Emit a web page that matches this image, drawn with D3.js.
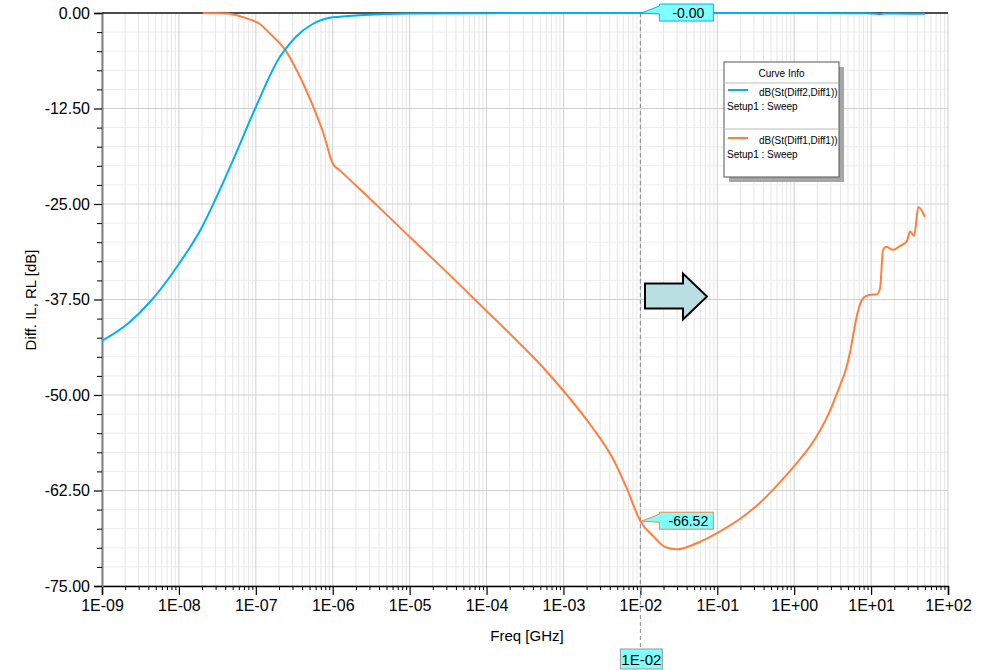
<!DOCTYPE html>
<html>
<head>
<meta charset="utf-8">
<script src="https://cdn.jsdelivr.net/npm/d3@7/dist/d3.min.js"></script>
<style>
  html, body { margin: 0; padding: 0; background: #ffffff; }
  svg { display: block; font-family: "Liberation Sans", Arial, sans-serif; }
</style>
</head>
<body>
<svg id="chart" width="983" height="670"></svg>
<script>
// Differential insertion loss / return loss sweep (frequency in GHz, level in dB)

// dB(St(Diff2,Diff1)) - insertion loss
const ilFreq = [1e-9, 2.2e-9, 4.4e-9, 1e-8, 2e-8, 3e-8, 5.4e-8, 1e-7, 2.07e-7, 2.4e-7, 3.4e-7, 5.5e-7,
  1e-6, 2.5e-6, 1e-5, 1e-4, 1e-3, 1e-2, 1e-1, 1, 5, 10, 13, 15, 20, 50];
const ilDb = [-42.9, -40.6, -37.6, -32.85, -28.0, -24.35, -18.6, -12.3, -5.7, -4.8, -3.0, -1.44,
  -0.57, -0.26, -0.05, -0.02, -0.006, -0.003, -0.005, -0.01, -0.03, -0.05, -0.15, -0.06, -0.08, -0.1];

// dB(St(Diff1,Diff1)) - return loss
const rlFreq = [2.04e-8, 4.2e-8, 7.6e-8, 1.13e-7, 1.53e-7, 2.4e-7, 3.4e-7, 5.6e-7, 7.55e-7, 1e-6,
  1.24e-6, 3.05e-6, 1e-5, 2.5e-5, 1e-4, 2.47e-4, 5.43e-4, 1.11e-3, 2.2e-3, 4.42e-3, 6.71e-3, 1e-2,
  1.48e-2, 2.1e-2, 2.97e-2, 5.4e-2, 9.8e-2, 0.198, 0.36, 0.656, 1.0, 1.615, 2.18, 2.94, 3.96,
  4.59, 5.33, 6.01, 6.58, 7.19, 8.11, 9.7, 11.97, 13.1, 14.3, 15.7, 19.3, 23.8, 29.1, 32.1, 36.2, 41.2, 50];
const rlDb = [0, -0.05, -0.7, -1.44, -2.7, -4.8, -7.5, -12.3, -15.7, -19.7,
  -20.6, -24.3, -29.3, -33.1, -39.0, -42.87, -46.4, -50.0, -53.8, -58.38, -62.3, -66.52,
  -68.5, -69.9, -70.2, -69.4, -68.1, -66.2, -64.1, -61.4, -59.3, -56.7, -54.6, -52.0, -48.7,
  -47.0, -44.4, -41.5, -39.5, -38.1, -37.2, -36.9, -36.8, -36.0, -31.0, -30.6, -31.0, -30.5, -29.9, -28.6, -29.2, -25.4, -26.7];

const xTickLabels = ["1E-09", "1E-08", "1E-07", "1E-06", "1E-05", "1E-04", "1E-03", "1E-02", "1E-01", "1E+00", "1E+01", "1E+02"];
const yTickLabels = ["0.00", "-12.50", "-25.00", "-37.50", "-50.00", "-62.50", "-75.00"];
const seriesNames = ["dB(St(Diff2,Diff1))", "dB(St(Diff1,Diff1))"];
const setupNames = ["Setup1 : Sweep", "Setup1 : Sweep"];
const markerFreq = [1e-2];

const colors = ["#00b0f0", "#ff7f3f"];
const svg = d3.select("#chart");
const plotL = 102, plotR = 948, plotT = 13, plotB = 586;

const x = d3.scaleLog().domain([1e-9, 1e2]).range([plotL, plotR]);
const y = d3.scaleLinear().domain([-75, 0]).range([plotB, plotT]);

// Grid
const decades = d3.range(-9, 3).map(e => Math.pow(10, e));
const minorX = [];
decades.slice(0, -1).forEach(d => { for (let k = 2; k <= 9; k++) minorX.push(d * k); });
const minorY = d3.range(-75, 0.01, 2.5).filter(v => Math.abs(v % 12.5) > 1e-6);
const majorY = d3.range(-75, 0.01, 12.5);

const grid = svg.append("g");
grid.selectAll(".mx").data(minorX).join("line")
  .attr("x1", d => x(d)).attr("x2", d => x(d)).attr("y1", plotT).attr("y2", plotB)
  .attr("stroke", "#e6e6e6").attr("stroke-width", 1);
grid.selectAll(".my").data(minorY).join("line")
  .attr("x1", plotL).attr("x2", plotR).attr("y1", d => y(d)).attr("y2", d => y(d))
  .attr("stroke", "#ececec").attr("stroke-width", 1);
grid.selectAll(".Mx").data(decades).join("line")
  .attr("x1", d => x(d)).attr("x2", d => x(d)).attr("y1", plotT).attr("y2", plotB)
  .attr("stroke", "#cfcfcf").attr("stroke-width", 1);
grid.selectAll(".My").data(majorY).join("line")
  .attr("x1", plotL).attr("x2", plotR).attr("y1", d => y(d)).attr("y2", d => y(d))
  .attr("stroke", "#cfcfcf").attr("stroke-width", 1);

// Axes
const xAxis = d3.axisBottom(x).tickValues(decades).tickSize(9).tickPadding(5)
  .tickFormat((d, i) => xTickLabels[i]);
const gx = svg.append("g").attr("transform", `translate(0,${plotB})`).call(xAxis);
gx.select(".domain").attr("stroke", "#000").attr("stroke-width", 1.5);
gx.selectAll(".tick line").attr("stroke", "#000").attr("stroke-width", 1.2);
gx.selectAll("text").attr("font-size", 16).attr("fill", "#000")
  .attr("font-family", "Liberation Sans, Arial, sans-serif");
const gxm = svg.append("g").attr("transform", `translate(0,${plotB})`)
  .call(d3.axisBottom(x).tickValues(minorX).tickSize(4).tickFormat(""));
gxm.select(".domain").remove();
gxm.selectAll(".tick line").attr("stroke", "#000").attr("stroke-width", 1);

const yAxis = d3.axisLeft(y).tickValues(majorY).tickSize(8).tickPadding(4)
  .tickFormat(d => yTickLabels[Math.round(-d / 12.5)]);
const gy = svg.append("g").attr("transform", `translate(${plotL},0)`).call(yAxis);
gy.select(".domain").attr("stroke", "#808080").attr("stroke-width", 2);
gy.selectAll(".tick line").attr("stroke", "#000").attr("stroke-width", 1.2);
gy.selectAll("text").attr("font-size", 16).attr("fill", "#000")
  .attr("font-family", "Liberation Sans, Arial, sans-serif");
const gym = svg.append("g").attr("transform", `translate(${plotL},0)`)
  .call(d3.axisLeft(y).tickValues(minorY).tickSize(5).tickFormat(""));
gym.select(".domain").remove();
gym.selectAll(".tick line").attr("stroke", "#000").attr("stroke-width", 1);

// top border
svg.append("line").attr("x1", plotL).attr("x2", plotR).attr("y1", plotT).attr("y2", plotT)
  .attr("stroke", "#1a1a1a").attr("stroke-width", 1.5);

// Axis titles
svg.append("text").attr("x", (plotL + plotR) / 2 + 2).attr("y", 641).attr("text-anchor", "middle")
  .attr("font-size", 15).text("Freq [GHz]");
svg.append("text").attr("transform", "translate(36,300) rotate(-90)").attr("text-anchor", "middle")
  .attr("font-size", 15).text("Diff. IL, RL [dB]");

// Marker line
const mx = x(markerFreq[0]);
svg.append("line").attr("x1", mx).attr("x2", mx).attr("y1", plotT).attr("y2", 649)
  .attr("stroke", "#8a8a8a").attr("stroke-width", 1).attr("stroke-dasharray", "4,3");

// Curves
const line = d3.line().x(d => x(d[0])).y(d => y(d[1])).curve(d3.curveMonotoneX);
const ilData = ilFreq.map((f, i) => [f, ilDb[i]]);
const rlData = rlFreq.map((f, i) => [f, rlDb[i]]);
svg.append("path").datum(rlData).attr("d", line).attr("fill", "none")
  .attr("stroke", colors[1]).attr("stroke-width", 2);
svg.append("path").datum(ilData).attr("d", line).attr("fill", "none")
  .attr("stroke", colors[0]).attr("stroke-width", 2);

// Marker callouts
function callout(px, py, value, stroke) {
  const bx = px + 18, bw = 54, bh = 17, by = py - 9;
  const g = svg.append("g");
  g.append("path")
    .attr("d", `M${px},${py} L${bx},${by + 2} L${bx},${by} L${bx + bw},${by} L${bx + bw},${by + bh} L${bx},${by + bh} L${bx},${by + 10} Z`)
    .attr("fill", "#80ffff").attr("stroke", stroke).attr("stroke-width", 1);
  g.append("text").attr("x", bx + bw / 2 + 2).attr("y", by + 13.5).attr("text-anchor", "middle")
    .attr("font-size", 14).attr("fill", "#000").text(value.toFixed(2));
}
const ilAtMarker = ilDb[ilFreq.indexOf(markerFreq[0])];
const rlAtMarker = rlDb[rlFreq.indexOf(markerFreq[0])];
callout(mx + 1, y(ilAtMarker), ilAtMarker, colors[0]);
callout(mx + 1, y(rlAtMarker), rlAtMarker, colors[1]);

// Marker frequency label
svg.append("rect").attr("x", mx - 20).attr("y", 649).attr("width", 42).attr("height", 20)
  .attr("fill", "#80ffff").attr("stroke", "#999").attr("stroke-width", 1);
svg.append("text").attr("x", mx + 1).attr("y", 665).attr("text-anchor", "middle")
  .attr("font-size", 15).attr("fill", "#000").text(xTickLabels[7]);

// Block arrow
const ax0 = 645, ax1 = 683, ax2 = 707, ay = 296.5;
svg.append("path")
  .attr("d", `M${ax0},${ay - 13} L${ax1},${ay - 13} L${ax1},${ay - 23} L${ax2},${ay} L${ax1},${ay + 23} L${ax1},${ay + 12} L${ax0},${ay + 12} Z`)
  .attr("fill", "#b9dfe2").attr("stroke", "#000").attr("stroke-width", 2).attr("stroke-linejoin", "miter");

// Legend
const lg = svg.append("g").attr("transform", "translate(724,62)");
lg.append("rect").attr("x", 5).attr("y", 5).attr("width", 115).attr("height", 115).attr("fill", "#a6a6a6");
lg.append("rect").attr("x", 0).attr("y", 0).attr("width", 115).attr("height", 115)
  .attr("fill", "#fff").attr("stroke", "#555").attr("stroke-width", 1);
lg.append("text").attr("x", 57.5).attr("y", 14.5).attr("text-anchor", "middle")
  .attr("font-size", 10).text("Curve Info");
lg.append("line").attr("x1", 0).attr("x2", 115).attr("y1", 21).attr("y2", 21).attr("stroke", "#bbb");
lg.append("line").attr("x1", 0).attr("x2", 115).attr("y1", 67).attr("y2", 67).attr("stroke", "#bbb");
seriesNames.forEach((name, i) => {
  const oy = i * 48;
  lg.append("line").attr("x1", 4).attr("x2", 24).attr("y1", 28 + oy).attr("y2", 28 + oy)
    .attr("stroke", colors[i]).attr("stroke-width", 2);
  lg.append("text").attr("x", 35).attr("y", 34 + oy).attr("font-size", 10).text(name);
  lg.append("text").attr("x", 3).attr("y", 48 + oy).attr("font-size", 10).text(setupNames[i]);
});
</script>
</body>
</html>
